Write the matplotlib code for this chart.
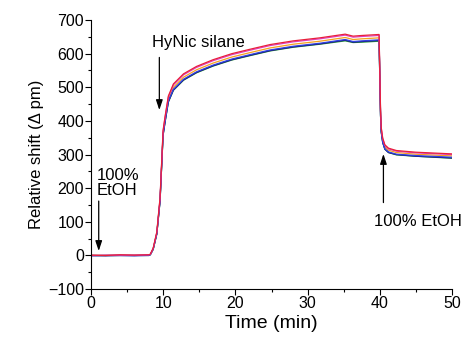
import numpy as np
import matplotlib
matplotlib.use("Agg")
import matplotlib.pyplot as plt

plt.rcParams["font.family"] = ["Liberation Sans", "DejaVu Sans"]

# time points (min)
time_min = [0, 2, 4, 6, 8, 8.2, 8.6, 9.1, 9.55, 9.97, 10.25, 10.7, 11.4, 12.8, 14.6,
            16.9, 19.5, 22, 24.8, 28, 31.7, 35.2, 36.3, 37.5, 39.9, 40.1, 40.2, 40.4,
            40.7, 41.2, 42.3, 45, 50]

# relative shift (pm) for each ring
red = [1, 0, 2, 1, 2, 4, 22, 70, 172, 372, 414, 474, 510, 540, 562,
       582, 600, 613, 627, 638, 647, 658, 652, 654, 657, 432, 380, 349,
       329, 319, 312, 307, 302]
magenta = [0, 1, 1, 1, 2, 3, 21, 68, 170, 369, 411, 471, 507, 537, 559,
           579, 597, 610, 624, 635, 644, 655, 649, 651, 654, 430, 378, 347,
           327, 317, 310, 305, 300]
orange = [0, 0, 1, 0, 1, 3, 20, 66, 166, 364, 405, 465, 500, 530, 552,
          572, 590, 603, 617, 628, 637, 648, 642, 644, 647, 425, 374, 343,
          323, 313, 306, 301, 296]
green = [0, 0, 0, 0, 0, 2, 18, 64, 162, 357, 397, 456, 491, 521, 543,
         563, 581, 594, 608, 619, 628, 638, 633, 634, 637, 415, 366, 336,
         316, 306, 299, 295, 289]
blue = [-1, 0, 0, -1, 0, 2, 19, 65, 163, 360, 400, 459, 494, 524, 546,
        566, 584, 597, 611, 622, 631, 642, 636, 638, 641, 418, 368, 337,
        317, 308, 301, 297, 292]
navy = [0, -1, 0, 0, 1, 3, 19, 64, 162, 358, 398, 457, 492, 522, 544,
        564, 582, 595, 609, 620, 629, 640, 634, 636, 639, 417, 367, 336,
        316, 306, 300, 295, 290]

series = [
    (orange, "#f5a020"),
    (green, "#2a9a3a"),
    (navy, "#1a1a80"),
    (blue, "#3040e0"),
    (magenta, "#e040c0"),
    (red, "#e8203a"),
]

fig = plt.figure(figsize=(4.65, 3.45), dpi=100)
ax = fig.add_axes([0.196, 0.162, 0.776, 0.78])

for vals, col in series:
    ax.plot(time_min, vals, color=col, lw=0.9)

ax.set_xlim(0, 50)
ax.set_ylim(-100, 700)
ax.set_xticks(np.arange(0, 51, 10))
ax.set_xticks(np.arange(0, 51, 5), minor=True)
ax.set_yticks(np.arange(-100, 701, 100))
ax.set_yticks(np.arange(-100, 701, 50), minor=True)
ax.spines["top"].set_visible(False)
ax.spines["right"].set_visible(False)
ax.tick_params(which="major", direction="out", length=4, width=0.8, labelsize=11.5, pad=1)
ax.tick_params(which="minor", direction="out", length=2.5, width=0.8)

ax.set_xlabel("Time (min)", fontsize=14, labelpad=3)
ax.set_ylabel("Relative shift (\u0394 pm)", fontsize=12, labelpad=3)

arrow = dict(arrowstyle="-|>,head_length=0.6,head_width=0.2", color="black", lw=0.9)
ax.annotate("", xy=(1.05, 5), xytext=(1.05, 170), arrowprops=arrow)
ax.text(0.8, 215, "100%\nEtOH", fontsize=12, va="center", ha="left", linespacing=1.0)

ax.annotate("", xy=(9.45, 424), xytext=(9.45, 597), arrowprops=arrow)
ax.text(8.4, 633, "HyNic silane", fontsize=12, va="center", ha="left")

ax.annotate("", xy=(40.5, 310), xytext=(40.5, 149), arrowprops=arrow)
ax.text(39.2, 101, "100% EtOH", fontsize=12, va="center", ha="left")

fig.savefig("out.png", dpi=100)
